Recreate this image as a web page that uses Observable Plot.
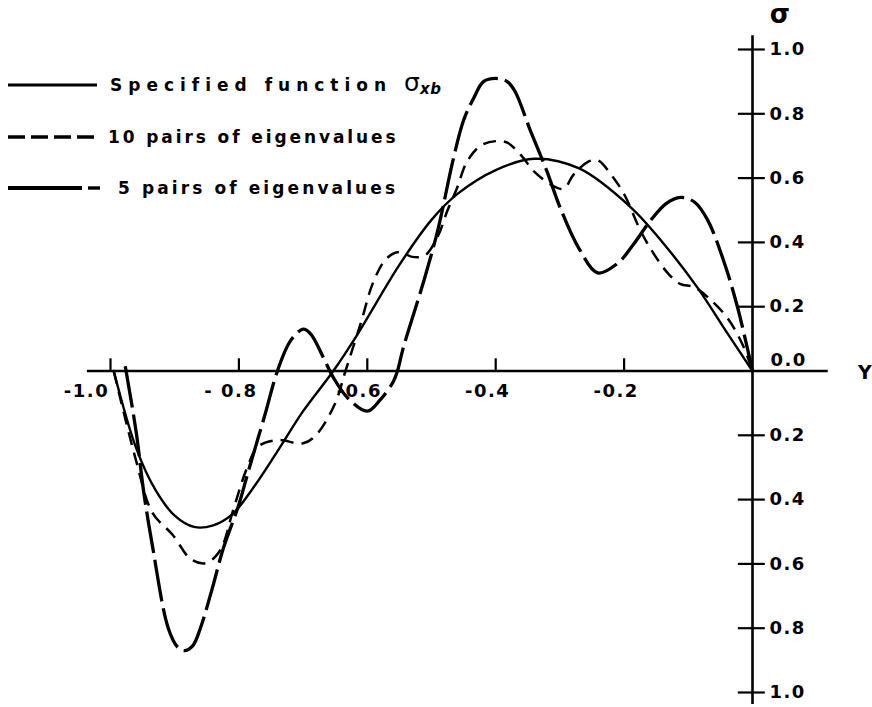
<!DOCTYPE html>
<html><head><meta charset="utf-8">
<script src="https://cdn.jsdelivr.net/npm/d3@7"></script>
<script src="https://cdn.jsdelivr.net/npm/@observablehq/plot@0.6"></script>
<style>
body{margin:0;background:#fff;}
#wrap{position:relative;width:872px;height:707px;font-family:"DejaVu Sans",sans-serif;font-weight:bold;color:#000;overflow:hidden;}
.leg{position:absolute;left:8px;height:24px;display:flex;align-items:center;font-size:17px;white-space:nowrap;}
.leg svg{flex:none;}
.sym{margin-left:12px;font-weight:normal;font-size:25px;line-height:24px;position:relative;top:-1px;}
.sym sub{font-size:15px;font-weight:bold;font-style:italic;position:relative;top:3px;vertical-align:baseline;letter-spacing:0.5px;}
</style></head><body><div id="wrap"></div>
<script>
// Specified function sigma_xb
const specifiedX = [-0.995,-0.96,-0.93,-0.90,-0.87,-0.84,-0.81,-0.78,-0.74,-0.70,-0.653,-0.615,-0.55,-0.50,-0.46,-0.40,-0.34,-0.27,-0.19,-0.14,-0.086,-0.04,0];
const specifiedS = [0,-0.24,-0.37,-0.45,-0.485,-0.48,-0.445,-0.37,-0.25,-0.125,0,0.115,0.33,0.47,0.55,0.625,0.66,0.63,0.51,0.40,0.26,0.12,0];
// 10 pairs of eigenvalues
const tenX = [-0.995,-0.96,-0.935,-0.903,-0.875,-0.852,-0.836,-0.824,-0.81,-0.787,-0.77,-0.74,-0.70,-0.68,-0.65,-0.634,-0.61,-0.59,-0.57,-0.55,-0.53,-0.51,-0.49,-0.475,-0.46,-0.445,-0.424,-0.40,-0.382,-0.36,-0.34,-0.31,-0.294,-0.279,-0.257,-0.241,-0.22,-0.20,-0.174,-0.154,-0.13,-0.112,-0.092,-0.07,-0.039,-0.015,0];
const tenS = [0,-0.28,-0.44,-0.51,-0.585,-0.598,-0.576,-0.536,-0.44,-0.30,-0.235,-0.215,-0.225,-0.20,-0.10,0,0.15,0.28,0.35,0.37,0.355,0.36,0.42,0.50,0.57,0.65,0.70,0.715,0.71,0.67,0.62,0.575,0.567,0.61,0.65,0.655,0.61,0.55,0.435,0.365,0.30,0.27,0.262,0.23,0.165,0.08,0];
// 5 pairs of eigenvalues
const fiveX = [-0.977,-0.96,-0.948,-0.935,-0.91,-0.895,-0.885,-0.872,-0.86,-0.842,-0.824,-0.80,-0.785,-0.76,-0.74,-0.72,-0.70,-0.688,-0.668,-0.653,-0.63,-0.60,-0.58,-0.56,-0.553,-0.544,-0.512,-0.49,-0.466,-0.45,-0.434,-0.419,-0.40,-0.382,-0.37,-0.346,-0.32,-0.30,-0.27,-0.241,-0.21,-0.185,-0.16,-0.135,-0.112,-0.09,-0.07,-0.045,-0.023,0];
const fiveS = [0.015,-0.19,-0.38,-0.54,-0.80,-0.86,-0.87,-0.855,-0.80,-0.68,-0.55,-0.415,-0.31,-0.14,0,0.093,0.13,0.115,0.04,-0.02,-0.085,-0.125,-0.09,-0.035,0,0.072,0.28,0.44,0.66,0.78,0.85,0.90,0.91,0.90,0.87,0.748,0.62,0.51,0.38,0.305,0.335,0.395,0.465,0.52,0.54,0.525,0.47,0.343,0.196,0];

const xTicks = [-1.0,-0.8,-0.6,-0.4,-0.2];
const xTickLabels = ["-1.0","- 0.8","-0.6","-0.4","-0.2"];
const yTicks = [1.0,0.8,0.6,0.4,0.2,-0.2,-0.4,-0.6,-0.8,-1.0];
const yTickLabels = ["1.0","0.8","0.6","0.4","0.2","0.2","0.4","0.6","0.8","1.0"];
const legendLabels = ["Specified function", "10 pairs of eigenvalues", "5 pairs of eigenvalues"];

const rows = (xs, ss) => xs.map((x, i) => ({x, s: ss[i]}));
const spec = rows(specifiedX, specifiedS);
const ten = rows(tenX, tenS);
const five = rows(fiveX, fiveS);
const xt = xTicks.map((v, i) => ({v, label: xTickLabels[i]}));
const yt = yTicks.map((v, i) => ({v, label: yTickLabels[i]}));

const font = {fontSize: 18, fontWeight: "bold", fontFamily: "DejaVu Sans"};

const chart = Plot.plot({
  width: 872, height: 707,
  margin: 0,
  x: {domain: [-1, 0], range: [110, 752], axis: null},
  y: {domain: [-1, 1], range: [692, 49], axis: null},
  style: {background: "#fff", color: "#000", letterSpacing: "1.5px", overflow: "visible"},
  marks: [
    // axes
    Plot.ruleY([0], {x1: -1.036, x2: 0.118, stroke: "#000", strokeWidth: 2.6}),
    Plot.ruleX([0], {y1: -1.037, y2: 1.043, stroke: "#000", strokeWidth: 2.6}),
    Plot.ruleX(xTicks, {x: d => d, y1: 0, y2: 0.038, stroke: "#000", strokeWidth: 2.2}),
    Plot.ruleY(yTicks, {y: d => d, x1: -0.022, x2: 0.02, stroke: "#000", strokeWidth: 2.2}),
    Plot.text(xt.slice(0, 1), {x: "v", y: 0, text: "label", dy: 20, dx: -24, ...font}),
    Plot.text(xt.slice(1), {x: "v", y: 0, text: "label", dy: 20, dx: -8, ...font}),
    Plot.text(yt, {x: 0, y: "v", text: "label", textAnchor: "start", dx: 17, ...font}),
    Plot.text(["0.0"], {x: 0, y: 0, text: d => d, textAnchor: "start", dx: 18, dy: -11, ...font}),
    Plot.text(["σ"], {x: 0, y: 1, text: d => d, dx: 28, dy: -35, fontSize: 26, fontFamily: "DejaVu Sans"}),
    Plot.text(["Y"], {x: 0, y: 0, text: d => d, dx: 113, dy: 2, fontSize: 19, fontWeight: "bold", fontFamily: "DejaVu Sans"}),
    // curves
    Plot.line(spec, {x: "x", y: "s", curve: "catmull-rom", stroke: "#000", strokeWidth: 2.4}),
    Plot.line(ten, {x: "x", y: "s", curve: "catmull-rom", stroke: "#000", strokeWidth: 2.5, strokeDasharray: "13,8", strokeLinecap: "butt"}),
    Plot.line(five, {x: "x", y: "s", curve: "catmull-rom", stroke: "#000", strokeWidth: 3.3, strokeDasharray: "42,7", strokeLinecap: "butt"})
  ]
});

const wrap = document.getElementById("wrap");
wrap.appendChild(chart);

const legendDefs = [
  {top: 73, gap: 13, spacing: "6px", sample: '<line x1="0" y1="12" x2="89" y2="12" stroke="#000" stroke-width="2.8"/>', sub: true},
  {top: 125, gap: 8, spacing: "2.9px", sample: '<line x1="0" y1="12" x2="92" y2="12" stroke="#000" stroke-width="3.4" stroke-dasharray="17,6"/>'},
  {top: 176, gap: 18, spacing: "3.1px", sample: '<line x1="0" y1="12" x2="74" y2="12" stroke="#000" stroke-width="3.8"/><line x1="80" y1="12" x2="92" y2="12" stroke="#000" stroke-width="3.4"/>'}
];
legendDefs.forEach((d, i) => {
  const div = document.createElement("div");
  div.className = "leg";
  div.style.top = d.top + "px";
  const w = i === 0 ? 89 : 92;
  div.innerHTML = `<svg width="${w}" height="24">${d.sample}</svg><span style="margin-left:${d.gap}px;letter-spacing:${d.spacing}">${legendLabels[i]}</span>` +
    (d.sub ? `<span class="sym">σ<sub>xb</sub></span>` : "");
  wrap.appendChild(div);
});
</script>
</body></html>
